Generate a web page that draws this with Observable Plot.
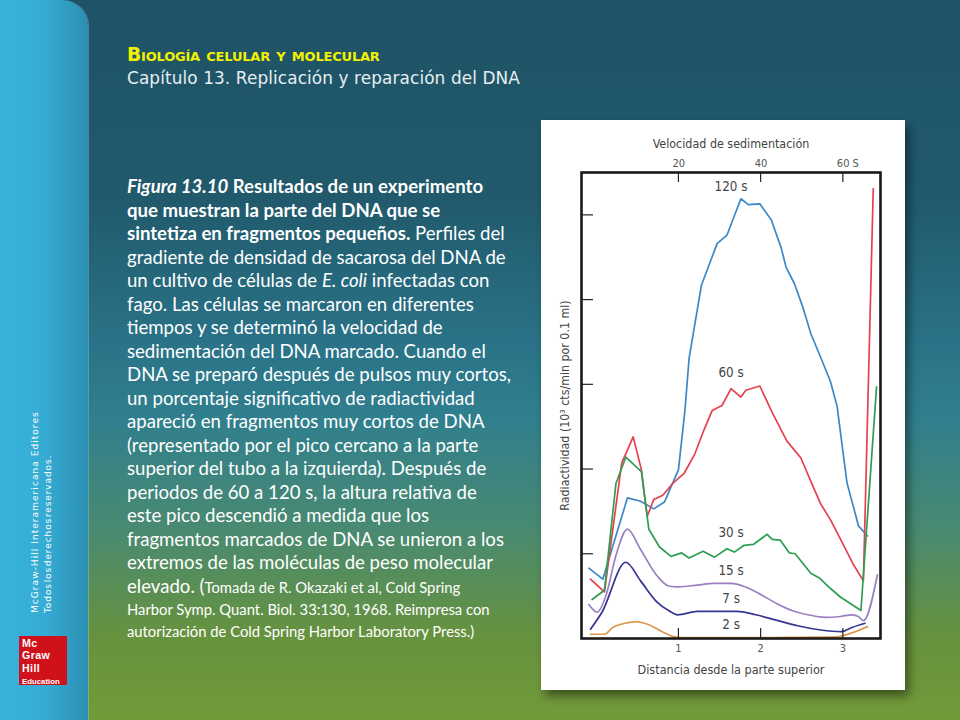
<!DOCTYPE html>
<html>
<head>
<meta charset="utf-8">
<script src="https://cdn.jsdelivr.net/npm/d3@7"></script>
<script src="https://cdn.jsdelivr.net/npm/@observablehq/plot@0.6"></script>
<style>
  html, body { margin: 0; padding: 0; }
  body { width: 960px; height: 720px; position: relative; overflow: hidden;
    background: linear-gradient(to bottom, #1f5266 0%, #215a6c 28%, #2a7388 48%, #307f8e 58%, #4a8a70 74%, #66923f 88%, #739a38 100%); }
  #band { position: absolute; left: 0; top: 0; width: 88px; height: 720px;
    border-top-right-radius: 26px;
    background: linear-gradient(to right, #38b3dc 0%, #36acd4 50%, #2b8fb2 100%);
    box-shadow: 1px 0 0 rgba(160,220,240,0.35); }
  #vt { position: absolute; left: 29px; top: 613px; transform-origin: 0 0; transform: rotate(-90deg);
    color: #fff; font-family: "DejaVu Sans", sans-serif; font-size: 9px; line-height: 13px; letter-spacing: 1.05px; white-space: nowrap; }
  #vt .t2 { word-spacing: -3px; letter-spacing: 0.9px; }
  #logo { position: absolute; left: 19px; top: 636px; width: 48px; height: 49px; background: #cf111b; }
  #logo .b { position: absolute; left: 3px; top: 1px; color: #fff; font-family: "Liberation Sans", Arial, sans-serif; font-weight: 700;
    font-size: 10.6px; line-height: 12.3px; letter-spacing: 0.4px; white-space: nowrap; }
  #logo .e { font-size: 7.8px; letter-spacing: 0; }
  #title { position: absolute; left: 127px; top: 44px; color: #f2f200; font-family: "DejaVu Sans", sans-serif;
    font-weight: 700; font-size: 18.7px; font-variant: small-caps; letter-spacing: -0.2px; white-space: nowrap; }
  #sub { position: absolute; left: 127px; top: 68px; color: #e6eef2; font-family: "DejaVu Sans", sans-serif;
    font-size: 16.9px; white-space: nowrap; letter-spacing: 0.1px; }
  #body { position: absolute; left: 127px; top: 175px; color: #fff; font-family: Lato, sans-serif; font-size: 18.6px; }
  #body div { white-space: nowrap; height: 23.5px; line-height: 23.5px; }
  #body .s { font-size: 14.8px; }
  #body div.sl { height: 22px; line-height: 22px; font-size: 14.8px; }
  #fig { position: absolute; left: 541px; top: 120px; width: 364px; height: 570px; background: #fff;
    box-shadow: 4px 6px 9px rgba(0,0,0,0.45); }
</style>
</head>
<body>
<div id="band"></div>
<div id="vt">McGraw-Hill Interamericana Editores<br><span class="t2">Todos los derechos reservados.</span></div>
<div id="logo"><div class="b">Mc<br>Graw<br>Hill<br><span class="e">Education</span></div></div>
<div id="title">Biología celular y molecular</div>
<div id="sub">Capítulo 13. Replicación y reparación del DNA</div>
<div id="body">
  <div><b><i>Figura 13.10</i> Resultados de un experimento</b></div>
  <div><b>que muestran la parte del DNA que se</b></div>
  <div><b>sintetiza en fragmentos pequeños.</b> Perfiles del</div>
  <div>gradiente de densidad de sacarosa del DNA de</div>
  <div>un cultivo de células de <i>E. coli</i> infectadas con</div>
  <div>fago. Las células se marcaron en diferentes</div>
  <div>tiempos y se determinó la velocidad de</div>
  <div>sedimentación del DNA marcado. Cuando el</div>
  <div>DNA se preparó después de pulsos muy cortos,</div>
  <div>un porcentaje significativo de radiactividad</div>
  <div>apareció en fragmentos muy cortos de DNA</div>
  <div>(representado por el pico cercano a la parte</div>
  <div>superior del tubo a la izquierda). Después de</div>
  <div>periodos de 60 a 120 s, la altura relativa de</div>
  <div>este pico descendió a medida que los</div>
  <div>fragmentos marcados de DNA se unieron a los</div>
  <div>extremos de las moléculas de peso molecular</div>
  <div>elevado. (<span class="s">Tomada de R. Okazaki et al, Cold Spring</span></div>
  <div class="sl">Harbor Symp. Quant. Biol. 33:130, 1968. Reimpresa con</div>
  <div class="sl">autorización de Cold Spring Harbor Laboratory Press.)</div>
</div>
<div id="fig"></div>
<script>
// Series (pulse times)
const seriesNames = ["120 s", "60 s", "30 s", "15 s", "7 s", "2 s"];
const seriesColors = ["#3b88c9", "#e5414f", "#2e9e52", "#9b7fc2", "#353592", "#d99a4e"];

// Distance from top (x) and radioactivity (y) for each series
const dist120 = [-0.09,0.08,0.38,0.54,0.70,0.83,0.91,1.00,1.08,1.13,1.28,1.47,1.59,1.76,1.85,1.99,2.13,2.25,2.31,2.41,2.51,2.61,2.73,2.85,2.93,3.05,3.19,3.30];
const rad120  = [0.83,0.70,1.66,1.62,1.53,1.61,1.79,1.99,2.70,3.31,4.17,4.66,4.76,5.19,5.12,5.13,4.94,4.61,4.38,4.19,3.92,3.60,3.32,3.03,2.74,1.84,1.33,1.21];

const dist60 = [-0.07,0.10,0.31,0.45,0.55,0.62,0.70,0.81,0.93,1.07,1.20,1.31,1.41,1.53,1.64,1.76,1.82,1.99,2.14,2.32,2.49,2.63,2.73,2.85,3.01,3.13,3.25,3.37];
const rad60  = [0.70,0.55,2.07,2.38,1.99,1.44,1.64,1.69,1.83,1.95,2.18,2.46,2.69,2.75,2.95,2.85,2.93,2.98,2.67,2.33,2.13,1.81,1.59,1.40,1.10,0.87,0.68,5.31];

const dist30 = [-0.05,0.10,0.24,0.36,0.55,0.64,0.77,0.91,1.04,1.13,1.30,1.44,1.59,1.68,1.80,1.91,2.08,2.14,2.24,2.35,2.42,2.61,2.72,2.85,2.97,3.22,3.41];
const rad30  = [0.46,0.57,1.83,2.14,1.97,1.29,1.08,0.97,1.01,0.95,1.03,0.96,1.06,1.02,1.10,1.11,1.23,1.17,1.16,1.01,1.00,0.77,0.71,0.59,0.49,0.33,2.97];

const dist15 = [-0.09,0.01,0.12,0.24,0.38,0.54,0.74,0.88,1.00,1.23,1.43,1.64,1.81,2.00,2.20,2.38,2.57,2.79,2.97,3.11,3.19,3.25,3.42];
const rad15  = [0.40,0.31,0.51,0.98,1.29,1.05,0.74,0.62,0.61,0.63,0.65,0.65,0.61,0.52,0.41,0.33,0.28,0.25,0.26,0.28,0.26,0.21,0.75];

const dist7 = [-0.07,0.07,0.36,0.54,0.74,0.88,0.99,1.23,1.47,1.71,1.94,2.18,2.45,2.73,2.98,3.11,3.27];
const rad7  = [0.11,0.31,0.90,0.68,0.43,0.33,0.28,0.32,0.32,0.32,0.28,0.22,0.15,0.10,0.08,0.13,0.18];

const dist2 = [-0.07,0.10,0.20,0.35,0.48,0.59,0.71,0.82,0.93,1.04,1.50,2.00,2.50,2.93,3.09,3.30];
const rad2  = [0.05,0.05,0.13,0.18,0.20,0.18,0.13,0.07,0.025,0.01,0.01,0.01,0.015,0.02,0.06,0.14];

// Series label positions (data units)
const labelDist = [1.64, 1.64, 1.64, 1.64, 1.64, 1.64];
const labelRad  = [5.33, 3.14, 1.25, 0.80, 0.47, 0.16];

// Axes
const bottomTicks = [1, 2, 3];
const bottomTickLabels = ["1", "2", "3"];
const topTickLabels = ["20", "40", "60 S"];
const yTicks = [1, 2, 3, 4, 5];
const xTitle = "Distancia desde la parte superior";
const topTitle = "Velocidad de sedimentación";
const yTitle = "Radiactividad (10³ cts/min por 0.1 ml)";

const dists = [dist120, dist60, dist30, dist15, dist7, dist2];
const rads = [rad120, rad60, rad30, rad15, rad7, rad2];
const table = [];
seriesNames.forEach((s, i) => dists[i].forEach((d, j) => table.push({series: s, d, v: rads[i][j]})));
const labels = seriesNames.map((s, i) => ({series: s, d: labelDist[i], v: labelRad[i]}));

const W = 364, H = 570, mL = 40, mR = 25, mT = 52, mB = 52;
const innerW = W - mL - mR, innerH = H - mT - mB;
const font = '"Liberation Sans Narrow", "DejaVu Sans Condensed", "Arial Narrow", sans-serif';
const smooth = new Set(["2 s", "7 s", "15 s"]);

const chart = Plot.plot({
  width: W, height: H,
  marginLeft: mL, marginRight: mR, marginTop: mT, marginBottom: mB,
  style: {background: "#fff", fontFamily: font, color: "#444", overflow: "visible"},
  x: {domain: [-0.179, 3.458], axis: null},
  y: {domain: [0, 5.5], axis: null},
  color: {domain: seriesNames, range: seriesColors},
  marks: [
    Plot.line(table.filter(r => !smooth.has(r.series)),
      {x: "d", y: "v", z: "series", stroke: "series", strokeWidth: 1.7}),
    Plot.line(table.filter(r => smooth.has(r.series)),
      {x: "d", y: "v", z: "series", stroke: "series", strokeWidth: 1.7, curve: "monotone-x"}),
    Plot.tickY(yTicks, {y: d => d, stroke: "#222", strokeWidth: 1.2, insetRight: innerW - 12}),
    Plot.tickX(bottomTicks, {x: d => d, stroke: "#222", strokeWidth: 1.2, insetTop: innerH - 10}),
    Plot.tickX(bottomTicks, {x: d => d, stroke: "#222", strokeWidth: 1.2, insetBottom: innerH - 10}),
    Plot.frame({stroke: "#1a1a1a", strokeWidth: 2.6}),
    Plot.text(bottomTicks, {x: d => d, text: (d, i) => bottomTickLabels[i], frameAnchor: "bottom", lineAnchor: "middle", dy: 10, fontSize: 11, fill: "#555"}),
    Plot.text(bottomTicks, {x: d => d, text: (d, i) => topTickLabels[i], frameAnchor: "top", lineAnchor: "middle", dy: -9, dx: -6, textAnchor: "start", fontSize: 11, fill: "#555"}),
    Plot.text([xTitle], {text: d => d, frameAnchor: "bottom", lineAnchor: "middle", textAnchor: "middle", dy: 31, fontSize: 12.5, fill: "#444"}),
    Plot.text([topTitle], {text: d => d, frameAnchor: "top", lineAnchor: "middle", textAnchor: "middle", dy: -28, fontSize: 12.4, fill: "#444"}),
    Plot.text([yTitle], {text: d => d, frameAnchor: "left", lineAnchor: "middle", textAnchor: "middle", dx: -16, rotate: -90, fontSize: 12.3, fill: "#444"}),
    Plot.text(labels, {x: "d", y: "v", text: "series", fontSize: 13.3, fill: "#444"})
  ]
});
document.getElementById("fig").appendChild(chart);
</script>
</body>
</html>
